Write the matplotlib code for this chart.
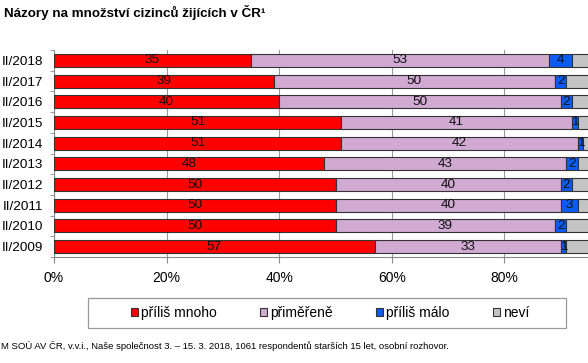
import numpy as np
import matplotlib
matplotlib.use("Agg")
import matplotlib.pyplot as plt
from matplotlib.patches import Patch, Rectangle

plt.rcParams['font.family'] = ['Liberation Sans', 'DejaVu Sans']

# data (values in %)
years = ["II/2018", "II/2017", "II/2016", "II/2015", "II/2014",
         "II/2013", "II/2012", "II/2011", "II/2010", "II/2009"]
prilis_mnoho = [35, 39, 40, 51, 51, 48, 50, 50, 50, 57]
primerene = [53, 50, 50, 41, 42, 43, 40, 40, 39, 33]
prilis_malo = [4, 2, 2, 1, 1, 2, 2, 3, 2, 1]
nevi = [8, 9, 8, 7, 6, 7, 8, 7, 9, 9]
series_names = ["příliš mnoho", "přiměřeně", "příliš málo", "neví"]
colors = ["#FF0000", "#D0AAD2", "#0A5CF2", "#C4C4C4"]
xticks = [0, 20, 40, 60, 80]
xlabels = ["0%", "20%", "40%", "60%", "80%"]

fig = plt.figure(figsize=(5.88, 3.63), dpi=100)
# plot area runs past the right edge (100 % is cropped in the original)
ax = fig.add_axes([54/588, 1-257/363, 563/588, 207/363])

y = np.arange(len(years))
series = [prilis_mnoho, primerene, prilis_malo, nevi]
left = np.zeros(len(years))
for k, vals in enumerate(series):
    vals = np.array(vals, dtype=float)
    ax.barh(y, vals, left=left, height=0.63, color=colors[k],
            edgecolor="#333333", linewidth=0.8, zorder=3)
    if k < 3:
        for i in range(len(years)):
            ax.text(left[i] + vals[i]/2, y[i], str(int(vals[i])),
                    ha="center", va="center", fontsize=9.7, color="#111111", zorder=4)
    left += vals

ax.set_xlim(0, 100)
ax.set_ylim(len(years) - 0.5, -0.5)
ax.set_xticks(xticks)
ax.set_xticklabels(xlabels, fontsize=10)
ax.set_yticks(y)
ax.set_yticklabels(years, fontsize=9.7)
ax.set_yticks(np.arange(len(years) + 1) - 0.5, minor=True)
ax.tick_params(axis="y", which="major", length=0, pad=8)
ax.tick_params(axis="y", which="minor", length=3, color="#888888")
ax.tick_params(axis="x", length=4, color="#888888", pad=6)
ax.xaxis.grid(True, color="#999999", linewidth=0.8, zorder=0)
for s in ["top", "right"]:
    ax.spines[s].set_visible(False)
ax.spines["left"].set_color("#888888")
ax.spines["bottom"].set_color("#888888")

fig.text(4/588, 1-12/363, "Názory na množství cizinců žijících v ČR¹",
         fontsize=9.6, fontweight="bold", va="center", ha="left")

# legend box
fig.patches.append(Rectangle((88/588, 1-328/363), 478/588, 30/363,
                             transform=fig.transFigure, fill=False,
                             edgecolor="#999999", linewidth=0.9))
handles = [Patch(facecolor=c, edgecolor="#333333", linewidth=0.8) for c in colors]
fig.legend(handles, series_names, loc="center", ncol=4,
           bbox_to_anchor=(330/588, 1-313/363), frameon=False, fontsize=10,
           handlelength=0.55, handleheight=0.55, handletextpad=0.2,
           columnspacing=3.1)

fig.text(0.002, 1-346/363,
         "M SOÚ AV ČR, v.v.i., Naše společnost 3. – 15. 3. 2018, 1061 respondentů starších 15 let, osobní rozhovor.",
         fontsize=6.8, va="center", ha="left")

fig.savefig("out.png", dpi=100)
